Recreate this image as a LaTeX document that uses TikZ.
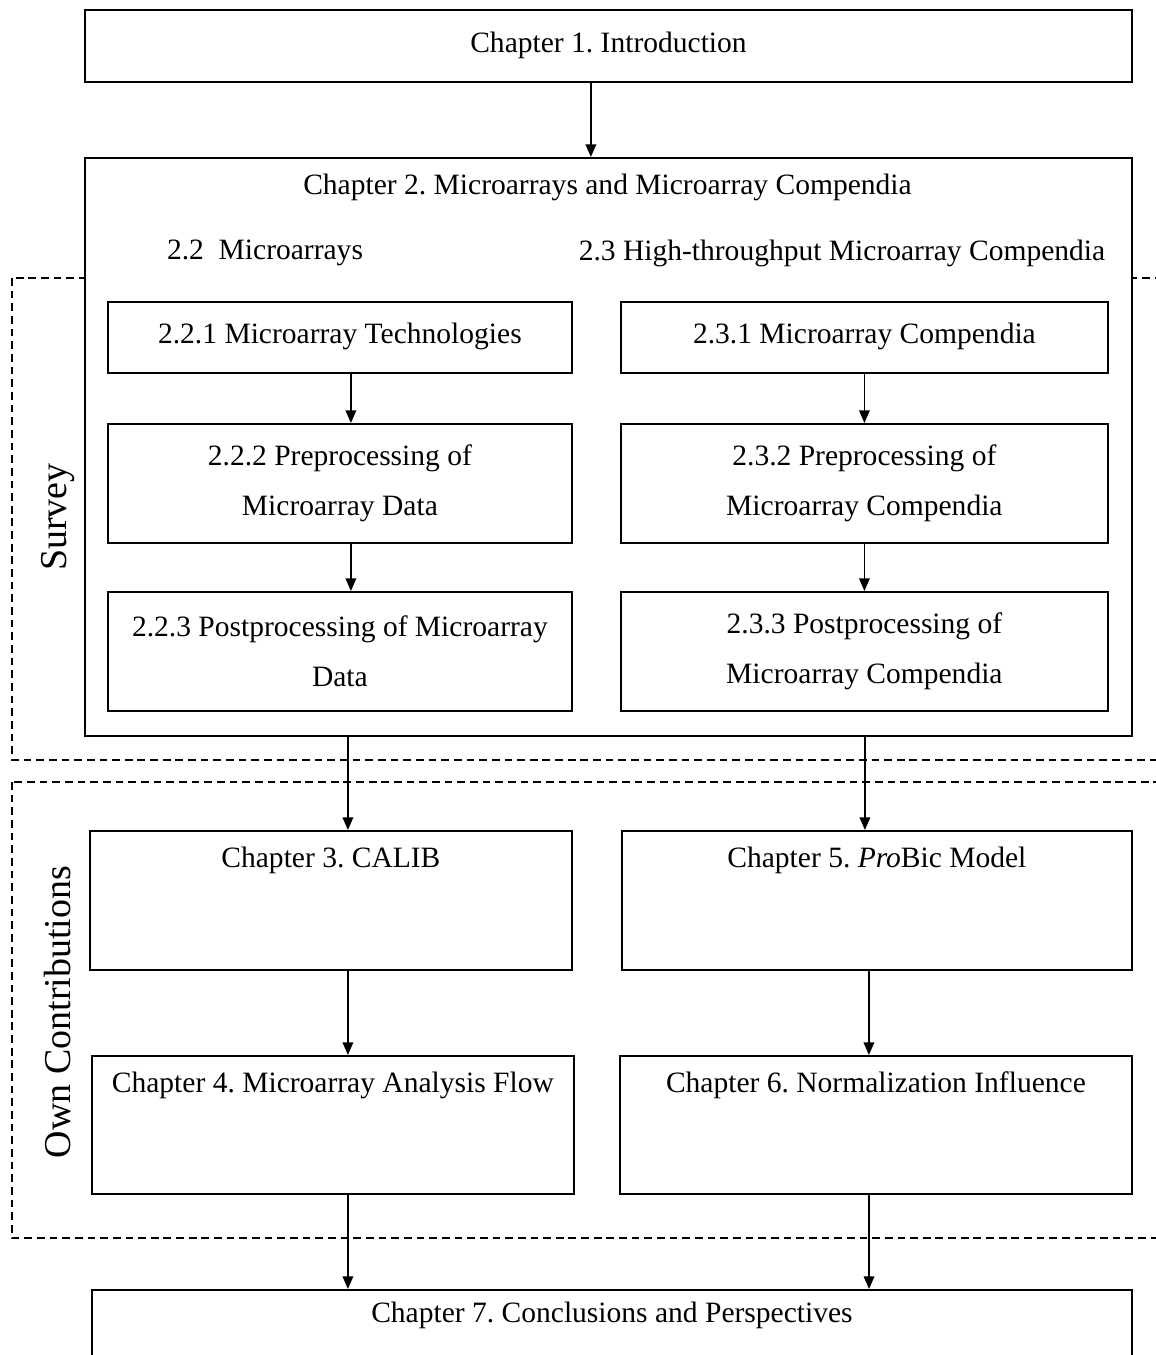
\documentclass[tikz,border=0pt]{standalone}
\usepackage{fontspec}
\setmainfont{Liberation Serif}
\usetikzlibrary{arrows.meta,positioning}
\frenchspacing

\begin{document}
\begin{tikzpicture}[x=0.025cm,y=-0.025cm,
  font=\fontsize{21}{35.5}\selectfont,
  bx/.style={draw,fill=white,line width=1.2pt,inner sep=0pt,align=center,anchor=north west},
  one/.style={text depth=0.55em},
  ttl/.style={inner sep=0pt,anchor=center},
  grp/.style={draw,line width=1.1pt,dash pattern=on 5.5pt off 3.5pt},
  side/.style={font=\fontsize{27}{32}\selectfont,rotate=90,inner sep=0pt},
  arr/.style={-{Triangle[length=9pt,width=7.5pt]},line width=1.2pt}]

\useasboundingbox (0,0) rectangle (1156,1355);
\clip (0,0) rectangle (1156,1355);

% --- the two dashed groups, drawn first so Chapter 2 hides them ---
\draw[grp] (12,278) rectangle (1200,760);
\draw[grp] (12,782) rectangle (1200,1238);
\node[side] (sv) at (58,517) {Survey};
\node[side] (oc) at (58,1012) {Own Contributions};

% --- survey: chapters 1 and 2 ---
\node[bx,one,minimum width=26.175cm,minimum height=1.8cm] (ch1) at (84,9) {Chapter 1. Introduction};
\node[bx,minimum width=26.175cm,minimum height=14.45cm] (ch2) at (84,157) {};
\node[ttl] (ch2t) at (607.5,187) {Chapter 2. Microarrays and Microarray Compendia};
\node[ttl] (s22) at (265,253) {2.2\ \ Microarrays};
\node[ttl] (s23) at (842,253) {2.3 High-throughput Microarray Compendia};

% left column
\node[bx,one,minimum width=11.6cm,minimum height=1.775cm] (t221) at (107,301) {2.2.1 Microarray Technologies};
\node[bx,minimum width=11.6cm,minimum height=2.975cm] (t222) at (107,423) {2.2.2 Preprocessing of\\Microarray Data};
\node[bx,minimum width=11.6cm,minimum height=2.975cm] (t223) at (107,591) {2.2.3 Postprocessing of Microarray\\Data};
% right column
\node[bx,one,minimum width=12.175cm,minimum height=1.775cm] (t231) at (620,301) {2.3.1 Microarray Compendia};
\node[bx,minimum width=12.175cm,minimum height=2.975cm] (t232) at (620,423) {2.3.2 Preprocessing of\\Microarray Compendia};
\node[bx,minimum width=12.175cm,minimum height=2.975cm] (t233) at (620,591) {2.3.3 Postprocessing of\\Microarray Compendia};

% --- own contributions: chapters 3 to 6 ---
\node[bx,minimum width=12.05cm,minimum height=3.475cm] (ch3) at (89,830) {};
\node[ttl] (ch3t) at ([yshift=-0.75cm]ch3.north) {Chapter 3. CALIB};
\node[bx,minimum width=12.75cm,minimum height=3.475cm] (ch5) at (621,830) {};
\node[ttl] (ch5t) at ([yshift=-0.75cm]ch5.north) {Chapter 5. \textit{Pro}Bic Model};
\node[bx,minimum width=12.05cm,minimum height=3.45cm] (ch4) at (91,1055) {};
\node[ttl] (ch4t) at ([yshift=-0.75cm]ch4.north) {Chapter 4. Microarray Analysis Flow};
\node[bx,minimum width=12.8cm,minimum height=3.45cm] (ch6) at (619,1055) {};
\node[ttl] (ch6t) at ([yshift=-0.75cm]ch6.north) {Chapter 6. Normalization Influence};

% --- chapter 7, cut by the page edge ---
\node[bx,minimum width=26cm,minimum height=3cm] (ch7) at (91,1289) {};
\node[ttl] (ch7t) at ([yshift=-0.65cm]ch7.north) {Chapter 7. Conclusions and Perspectives};

% --- arrows ---
\draw[arr] ([xshift=-0.44cm]ch1.south) -- ([xshift=-0.44cm]ch2.north);
\draw[arr] ([xshift=0.275cm]t221.south) -- ([xshift=0.275cm]t222.north);
\draw[arr] ([xshift=0.275cm]t222.south) -- ([xshift=0.275cm]t223.north);
\draw[arr] (t231.south) -- (t232.north);
\draw[arr] (t232.south) -- (t233.north);
\draw[arr] ([xshift=-6.51cm]ch2.south) -- ([xshift=0.425cm]ch3.north);
\draw[arr] ([xshift=6.41cm]ch2.south) -- ([xshift=-0.3cm]ch5.north);
\draw[arr] ([xshift=0.425cm]ch3.south) -- ([xshift=0.375cm]ch4.north);
\draw[arr] ([xshift=-0.2cm]ch5.south) -- ([xshift=-0.175cm]ch6.north);
\draw[arr] ([xshift=0.375cm]ch4.south) -- ([xshift=-6.6cm]ch7.north);
\draw[arr] ([xshift=-0.175cm]ch6.south) -- ([xshift=6.425cm]ch7.north);
\end{tikzpicture}
\end{document}
